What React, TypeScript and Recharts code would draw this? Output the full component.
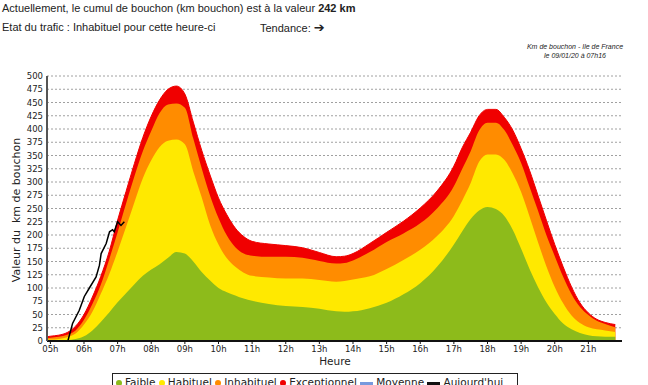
import React from "react";
import {
  AreaChart,
  Area,
  Line,
  XAxis,
  YAxis,
  CartesianGrid,
} from "recharts";

// heures (décimales)
const hours = [
  4.9, 5, 5.25, 5.5, 5.75, 6, 6.25, 6.5, 6.75, 7, 7.25, 7.5, 7.75, 8, 8.25,
  8.5, 8.75, 9, 9.25, 9.5, 9.75, 10, 10.25, 10.5, 10.75, 11, 11.5, 12, 12.5,
  13, 13.5, 13.75, 14, 14.5, 15, 15.5, 16, 16.5, 17, 17.25, 17.5, 17.75, 18,
  18.25, 18.5, 18.75, 19, 19.25, 19.5, 19.75, 20, 20.25, 20.5, 20.75, 21,
  21.25, 21.5, 21.8,
];

const faible = [
  1, 1, 1, 2, 4, 9, 20, 36, 54, 73, 90, 107, 123, 135, 145, 157, 168, 165,
  150, 130, 114, 100, 92, 86, 80, 76, 70, 66, 64, 61, 56, 55, 56, 62, 72, 88,
  109, 140, 182, 207, 230, 246, 253, 249, 236, 210, 174, 136, 102, 73, 51, 33,
  22, 15, 11, 9, 8, 8,
];

const habituel = [
  3, 3, 4, 7, 14, 31, 55, 89, 126, 169, 215, 262, 307, 341, 366, 378, 380,
  371, 320, 271, 219, 182, 156, 140, 129, 123, 120, 118, 118, 115, 112, 113,
  116, 122, 136, 153, 172, 198, 236, 265, 298, 338, 352, 352, 342, 316, 281,
  235, 187, 141, 102, 71, 48, 34, 26, 22, 20, 17,
];

const inhabituel = [
  5, 6, 8, 12, 20, 40, 70, 106, 154, 205, 259, 311, 358, 396, 430, 446, 448,
  440, 382, 326, 274, 232, 199, 177, 165, 161, 159, 159, 157, 151, 146, 147,
  152, 168, 187, 203, 222, 250, 292, 325, 358, 397, 412, 412, 398, 370, 336,
  291, 246, 200, 160, 121, 88, 64, 49, 38, 32, 26,
];

const exceptionnel = [
  8, 9, 11, 16, 28, 50, 83, 122, 169, 228, 282, 335, 384, 424, 455, 475, 481,
  466, 413, 360, 313, 270, 238, 213, 197, 188, 183, 180, 176, 167, 159, 160,
  165, 184, 205, 226, 251, 283, 330, 365, 394, 425, 437, 437, 422, 398, 363,
  322, 275, 228, 182, 140, 102, 72, 53, 41, 35, 31,
];

// relevé du jour jusqu'à 07h16
const todayHours = [
  5.52, 5.66, 5.86, 6.01, 6.16, 6.36, 6.46, 6.51, 6.66, 6.76, 6.85, 6.9, 7.0,
  7.1, 7.2,
];
const todayValues = [
  0, 33, 58, 84, 100, 121, 143, 165, 184, 206, 210, 206, 225, 218, 225,
];

const hourTicks = [5, 6, 7, 8, 9, 10, 11, 12, 13, 14, 15, 16, 17, 18, 19, 20, 21];
const valueTicks = [
  0, 25, 50, 75, 100, 125, 150, 175, 200, 225, 250, 275, 300, 325, 350, 375,
  400, 425, 450, 475, 500,
];

const GREEN = "#8dbb1b";
const YELLOW = "#ffe900";
const ORANGE = "#ff8c00";
const RED = "#f00000";

const chartData = hours.map((h, i) => ({
  h,
  faible: faible[i],
  habituel: habituel[i],
  inhabituel: inhabituel[i],
  exceptionnel: exceptionnel[i],
}));

const todayData = todayHours.map((h, i) => ({ h, today: todayValues[i] }));

const fmtHour = (v: number) => (v < 10 ? "0" + v : "" + v) + "h";

const tickFont = { fontFamily: "DejaVu Sans", fontSize: 8.5, fill: "#222" };

function LegendDot({ color }: { color: string }) {
  return (
    <span
      style={{
        display: "inline-block",
        width: 6,
        height: 6,
        borderRadius: 3,
        background: color,
        marginRight: 3,
        verticalAlign: "middle",
      }}
    />
  );
}

function LegendLine({ color }: { color: string }) {
  return (
    <span
      style={{
        display: "inline-block",
        width: 13,
        height: 3,
        background: color,
        marginRight: 3,
        verticalAlign: "middle",
      }}
    />
  );
}

export default function App() {
  return (
    <div
      style={{
        position: "absolute",
        left: 0,
        top: 0,
        width: 648,
        height: 385,
        overflow: "hidden",
        background: "#fff",
        fontFamily: "Liberation Sans, Arial, sans-serif",
        color: "#222",
      }}
    >
      <div style={{ position: "absolute", left: 2, top: 2, fontSize: 11 }}>
        Actuellement, le cumul de bouchon (km bouchon) est à la valeur{" "}
        <b>242 km</b>
      </div>
      <div style={{ position: "absolute", left: 2, top: 21, fontSize: 11 }}>
        Etat du trafic : Inhabituel pour cette heure-ci
      </div>
      <div style={{ position: "absolute", left: 260, top: 20, fontSize: 11 }}>
        Tendance:{" "}
        <span style={{ fontFamily: "DejaVu Sans", fontWeight: "bold", fontSize: 13 }}>
          ➔
        </span>
      </div>
      <div
        style={{
          position: "absolute",
          left: 500,
          top: 42,
          width: 150,
          textAlign: "center",
          fontSize: 7,
          fontStyle: "italic",
          lineHeight: "9px",
        }}
      >
        Km de bouchon - Ile de France
        <br />
        le 09/01/20 à 07h16
      </div>

      <AreaChart
        width={648}
        height={385}
        data={chartData}
        margin={{ top: 76, right: 26, bottom: 14, left: 0 }}
        style={{ position: "absolute", left: 0, top: 0 }}
      >
        <XAxis
          dataKey="h"
          type="number"
          domain={[4.9, 22]}
          ticks={hourTicks}
          tickFormatter={fmtHour}
          tick={tickFont}
          tickSize={3}
          height={30}
          axisLine={{ stroke: "#111", strokeWidth: 2 }}
          tickLine={{ stroke: "#111" }}
          allowDataOverflow
        />
        <YAxis
          type="number"
          domain={[0, 500]}
          ticks={valueTicks}
          tick={tickFont}
          width={47}
          tickSize={2}
          axisLine={{ stroke: "#555", strokeWidth: 2 }}
          tickLine={false}
          interval={0}
        />
        <Area
          type="monotone"
          dataKey="exceptionnel"
          stroke={RED}
          strokeWidth={1}
          fill={RED}
          fillOpacity={1}
          isAnimationActive={false}
          dot={false}
          activeDot={false}
        />
        <Area
          type="monotone"
          dataKey="inhabituel"
          stroke="none"
          fill={ORANGE}
          fillOpacity={1}
          isAnimationActive={false}
          dot={false}
          activeDot={false}
        />
        <Area
          type="monotone"
          dataKey="habituel"
          stroke="none"
          fill={YELLOW}
          fillOpacity={1}
          isAnimationActive={false}
          dot={false}
          activeDot={false}
        />
        <Area
          type="monotone"
          dataKey="faible"
          stroke="none"
          fill={GREEN}
          fillOpacity={1}
          isAnimationActive={false}
          dot={false}
          activeDot={false}
        />
        <CartesianGrid
          vertical={false}
          stroke="#777"
          strokeOpacity={0.7}
          strokeDasharray="2 2"
          horizontalValues={valueTicks}
        />
        <Line
          data={todayData}
          dataKey="today"
          type="linear"
          stroke="#000"
          strokeWidth={1.5}
          dot={false}
          activeDot={false}
          isAnimationActive={false}
        />
      </AreaChart>

      <div
        style={{
          position: "absolute",
          left: 0,
          top: 210,
          transform: "translate(-50%, -50%) rotate(-90deg)",
          marginLeft: 16,
          whiteSpace: "nowrap",
          fontFamily: "DejaVu Sans",
          fontSize: 11,
        }}
      >
        Valeur du&nbsp; km de bouchon
      </div>
      <div
        style={{
          position: "absolute",
          left: 335,
          top: 355,
          transform: "translateX(-50%)",
          fontFamily: "DejaVu Sans",
          fontSize: 10.5,
        }}
      >
        Heure
      </div>

      <div
        style={{
          position: "absolute",
          left: 112,
          top: 373,
          width: 406,
          height: 20,
          border: "1px solid #222",
          fontFamily: "DejaVu Sans",
          fontSize: 10.5,
          lineHeight: "17px",
          paddingLeft: 3,
          whiteSpace: "nowrap",
          boxSizing: "border-box",
        }}
      >
        <LegendDot color={GREEN} />
        Faible <LegendDot color={YELLOW} />
        Habituel <LegendDot color={ORANGE} />
        Inhabituel <LegendDot color={RED} />
        Exceptionnel <LegendLine color="#7799dd" />
        Moyenne <LegendLine color="#111" />
        Aujourd'hui
      </div>
    </div>
  );
}
